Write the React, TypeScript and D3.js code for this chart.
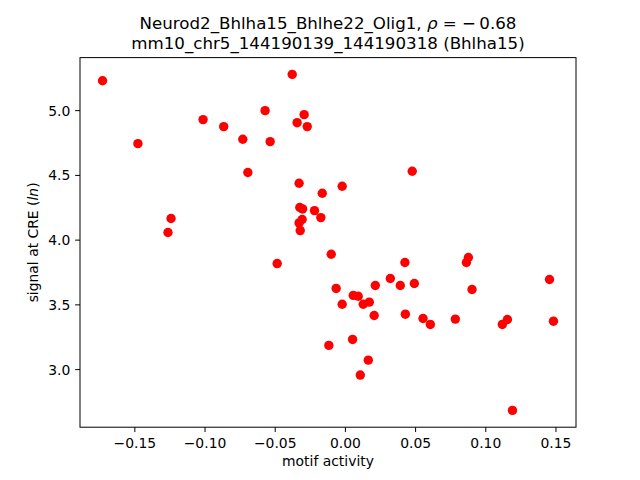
import React, { useLayoutEffect } from "react";
import * as d3 from "d3";

const motifActivity: number[] = [
  -0.1730, -0.1478, -0.1264, -0.1242, -0.1014, -0.0867, -0.0731, -0.0695, -0.0572, -0.0536,
  -0.0486, -0.0379, -0.0344, -0.0330, -0.0325, -0.0305, -0.0308, -0.0330, -0.0322, -0.0294,
  -0.0272, -0.0220, -0.0175, -0.0165, -0.0023, -0.0118, -0.0101, -0.0066, -0.0023, 0.0056,
  0.0091, 0.0051, 0.0127, 0.0170, 0.0205, 0.0213, 0.0163, 0.0106, 0.0320, 0.0391,
  0.0424, 0.0427, 0.0476, 0.0491, 0.0553, 0.0605, 0.0783, 0.0862, 0.0876, 0.0902,
  0.1118, 0.1154, 0.1190, 0.1454, 0.1482,
];

const signalAtCRE: number[] = [
  5.231, 4.745, 4.059, 4.167, 4.931, 4.877, 4.779, 4.522, 5.000, 4.761,
  3.819, 5.280, 4.907, 4.439, 4.252, 4.241, 4.159, 4.133, 4.074, 4.969,
  4.877, 4.228, 4.174, 4.362, 4.416, 3.187, 3.891, 3.627, 3.505, 3.573,
  3.567, 3.233, 3.505, 3.521, 3.418, 3.650, 3.073, 2.958, 3.704, 3.650,
  3.827, 3.428, 4.532, 3.665, 3.395, 3.349, 3.390, 3.827, 3.866, 3.619,
  3.349, 3.387, 2.685, 3.696, 3.374,
];

const xTicks: number[] = [-0.15, -0.1, -0.05, 0.0, 0.05, 0.1, 0.15];
const yTicks: number[] = [3.0, 3.5, 4.0, 4.5, 5.0];

const titleLine1 = "Neurod2_Bhlha15_Bhlhe22_Olig1, ";
const rhoText = "0.68";
const titleLine2 = "mm10_chr5_144190139_144190318 (Bhlha15)";
const xLabel = "motif activity";

const W = 640;
const H = 480;
const left = 80;
const right = 576;
const top = 57.6;
const bottom = 427.2;
const FONT = "DejaVu Sans, sans-serif";

function padDomain(vals: number[]): [number, number] {
  const [mn, mx] = d3.extent(vals) as [number, number];
  const m = (mx - mn) * 0.05;
  return [mn - m, mx + m];
}

export default function App() {
  useLayoutEffect(() => {
    document.body.style.margin = "0";
  }, []);

  const x = d3.scaleLinear().domain(padDomain(motifActivity)).range([left, right]);
  const y = d3.scaleLinear().domain(padDomain(signalAtCRE)).range([bottom, top]);
  const fx = (v: number) => d3.format(".2f")(v).replace("-", "−");
  const fy = (v: number) => d3.format(".1f")(v).replace("-", "−");
  const points = motifActivity.map((v, i) => [v, signalAtCRE[i]] as [number, number]);
  const cx = (left + right) / 2;
  const cy = (top + bottom) / 2;
  const tickLen = 4.86;

  return (
    <svg width={W} height={H} style={{ display: "block", background: "#fff" }} fontFamily={FONT}>
      <rect x={0} y={0} width={W} height={H} fill="#fff" />
      {points.map(([a, b], i) => (
        <circle key={i} cx={x(a)} cy={y(b)} r={4.7} fill="#ff0000" />
      ))}
      <rect x={left} y={top} width={right - left} height={bottom - top} fill="none" stroke="#000" strokeWidth={1} />
      {xTicks.map((t) => (
        <g key={"x" + t}>
          <line x1={x(t)} x2={x(t)} y1={bottom} y2={bottom + tickLen} stroke="#000" strokeWidth={1} />
          <text x={x(t)} y={bottom + 20.5} fontSize={13.9} textAnchor="middle" fill="#000">
            {fx(t)}
          </text>
        </g>
      ))}
      {yTicks.map((t) => (
        <g key={"y" + t}>
          <line x1={left - tickLen} x2={left} y1={y(t)} y2={y(t)} stroke="#000" strokeWidth={1} />
          <text x={left - 9.7} y={y(t) + 5} fontSize={13.9} textAnchor="end" fill="#000">
            {fy(t)}
          </text>
        </g>
      ))}
      <text x={cx} y={466} fontSize={13.9} textAnchor="middle" fill="#000">
        {xLabel}
      </text>
      <text transform={`translate(38,${cy}) rotate(-90)`} fontSize={13.9} textAnchor="middle" fill="#000">
        signal at CRE (<tspan fontStyle="italic">ln</tspan>)
      </text>
      <text x={cx} y={29} fontSize={16.67} textAnchor="middle" fill="#000" style={{ whiteSpace: "pre" }}>
        {titleLine1}
        <tspan fontStyle="italic">ρ</tspan>
        {" = −\u2009"}
        {rhoText}
      </text>
      <text x={cx} y={49} fontSize={16.67} textAnchor="middle" fill="#000">
        {titleLine2}
      </text>
    </svg>
  );
}
